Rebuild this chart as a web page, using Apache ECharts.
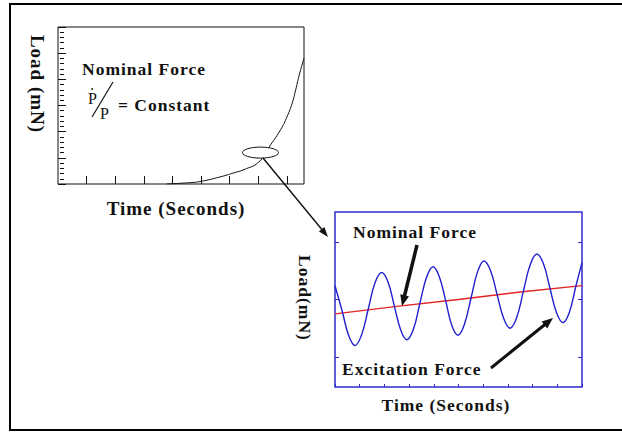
<!DOCTYPE html>
<html>
<head>
<meta charset="utf-8">
<script src="https://cdn.jsdelivr.net/npm/echarts@6/dist/echarts.min.js"></script>
<style>
  html, body { margin: 0; padding: 0; background: #fff; }
  #chart { width: 622px; height: 433px; }
  #chart svg text { letter-spacing: 1px; }
</style>
</head>
<body>
<div id="chart"></div>
<script>
// Upper-left panel: nominal force ramp, P'/P = constant (exponential growth)
const rampTime = [3.8, 4.6, 5.0, 5.7, 6.13, 6.5, 7.02, 7.37, 7.78, 8.01, 8.19, 8.31, 8.42, 8.6];
const rampLoad = [0.0, 0.05, 0.10, 0.28, 0.42, 0.55, 0.84, 1.40, 2.07, 2.58, 3.10, 3.60, 4.11, 4.81];
const rampTimeTicks = [1, 2, 3, 4, 5, 6, 7, 8];

// Lower-right panel: close-up of the ramp with the superimposed excitation
const zoomTime = [0, 0.29, 0.55, 0.81, 1.08, 1.35, 1.62, 1.89, 2.15, 2.40, 2.66, 2.91,
                  3.18, 3.44, 3.71, 3.97, 4.22, 4.48, 4.73, 4.98, 5.24, 5.51, 5.77, 6.03,
                  6.30, 6.56, 6.83, 7.09, 7.36, 7.63, 7.90, 8.17, 8.44, 8.70, 8.97, 9.23,
                  9.49, 9.75, 10.0];
const excitationLoad = [2.24, 1.80, 1.38, 1.20, 1.39, 1.84, 2.29, 2.47, 2.30, 1.89, 1.47, 1.30,
                        1.49, 1.94, 2.39, 2.57, 2.40, 1.98, 1.55, 1.38, 1.57, 2.03, 2.48, 2.67,
                        2.50, 2.09, 1.67, 1.50, 1.69, 2.15, 2.60, 2.79, 2.62, 2.20, 1.77, 1.60,
                        1.78, 2.23, 2.64];
const nominalTime = [0, 2.5, 5, 7.5, 10];
const nominalLoad = [1.75, 1.88, 2.0, 2.13, 2.24];
const zoomLoadTicks = [1, 2, 3];

const zip = (xs, ys) => xs.map((x, i) => [x, ys[i]]);

const SERIF = 'Liberation Serif';
const INK = '#111';
const BLUE_FRAME = '#2b2bcc';

const chart = echarts.init(document.getElementById('chart'), null, { renderer: 'svg' });

const noLine = { show: false };
const noLabel = { show: false };
const noSplit = { show: false };

// Ticks point into the plot: the axis is shifted inward by the tick length
// and its (outward) ticks reach back to the frame.
function rampXAxis(position) {
  return {
    gridIndex: 0, type: 'value', min: 0, max: 8.6, position, offset: -4,
    axisLine: noLine, splitLine: noSplit,
    axisLabel: { show: false, customValues: rampTimeTicks },
    axisTick: { show: true, inside: false, length: 4, customValues: rampTimeTicks,
                lineStyle: { color: INK, width: 1 } }
  };
}
function rampYAxis(position) {
  return {
    gridIndex: 0, type: 'value', min: 0, max: 6, interval: 1, position, offset: -4,
    axisLine: noLine, splitLine: noSplit, axisLabel: noLabel,
    axisTick: { show: true, inside: false, length: 4, lineStyle: { color: INK, width: 1 } },
    minorTick: { show: true, splitNumber: 5, length: 2, lineStyle: { color: INK, width: 1 } },
    minorSplitLine: { show: false }
  };
}
function zoomYAxis(position) {
  return {
    gridIndex: 1, type: 'value', min: 0.48, max: 3.52, position, offset: -4,
    axisLine: noLine, splitLine: noSplit,
    axisLabel: { show: false, customValues: zoomLoadTicks },
    axisTick: { show: true, inside: false, length: 4, customValues: zoomLoadTicks,
                lineStyle: { color: BLUE_FRAME, width: 1 } }
  };
}

chart.setOption({
  animation: false,
  backgroundColor: '#fff',
  grid: [
    { left: 58, top: 27, width: 246, height: 157, show: true,
      borderColor: INK, borderWidth: 1, backgroundColor: 'transparent' },
    { left: 335, top: 212, width: 247, height: 175, show: true,
      borderColor: BLUE_FRAME, borderWidth: 1.5, backgroundColor: 'transparent' }
  ],
  xAxis: [
    rampXAxis('bottom'),
    rampXAxis('top'),
    {
      gridIndex: 1, type: 'value', min: 0, max: 10, interval: 1, position: 'bottom', offset: -3,
      axisLine: noLine, splitLine: noSplit, axisLabel: noLabel,
      axisTick: { show: true, inside: false, length: 3, lineStyle: { color: BLUE_FRAME, width: 1 } }
    }
  ],
  yAxis: [
    rampYAxis('left'),
    rampYAxis('right'),
    zoomYAxis('left'),
    zoomYAxis('right')
  ],
  series: [
    {
      type: 'line', xAxisIndex: 0, yAxisIndex: 0, data: zip(rampTime, rampLoad),
      smooth: true, symbol: 'none', silent: true,
      lineStyle: { color: INK, width: 1 }
    },
    {
      type: 'line', xAxisIndex: 2, yAxisIndex: 2, data: zip(nominalTime, nominalLoad),
      symbol: 'none', silent: true,
      lineStyle: { color: '#e42323', width: 1.3 }
    },
    {
      type: 'line', xAxisIndex: 2, yAxisIndex: 2, data: zip(zoomTime, excitationLoad),
      smooth: 0.4, symbol: 'none', silent: true,
      lineStyle: { color: '#1f1fd0', width: 1.4 }
    }
  ]
});

// Annotation helpers
function arrow(x1, y1, x2, y2, w, headLen, headW, color) {
  const dx = x2 - x1, dy = y2 - y1, L = Math.hypot(dx, dy);
  const ux = dx / L, uy = dy / L, px = -uy, py = ux;
  const bx = x2 - ux * headLen, by = y2 - uy * headLen;
  return [
    { type: 'line', z: 100, shape: { x1, y1, x2: bx + ux, y2: by + uy },
      style: { stroke: color, lineWidth: w } },
    { type: 'polygon', z: 100,
      shape: { points: [[x2, y2], [bx + px * headW / 2, by + py * headW / 2], [bx - px * headW / 2, by - py * headW / 2]] },
      style: { fill: color } }
  ];
}
function label(text, x, y, size, opts) {
  opts = opts || {};
  return {
    type: 'text', z: 100, x, y, rotation: opts.rotation || 0,
    style: {
      text, x: 0, y: 0, fill: INK,
      fontFamily: SERIF, fontSize: size, fontWeight: opts.weight || 'bold',
      textAlign: opts.align || 'center', textVerticalAlign: 'middle'
    }
  };
}

// Highlight ellipse on the ramp, placed in data coordinates of the upper panel
const focus = chart.convertToPixel({ xAxisIndex: 0, yAxisIndex: 0 }, [7.08, 1.2]);

const graphics = [
  // outer frame
  { type: 'rect', z: 90, shape: { x: 10, y: 4, width: 700, height: 426 },
    style: { fill: 'none', stroke: '#000', lineWidth: 2 } },

  // upper panel texts
  label('Load (mN)', 37, 84, 19, { rotation: -Math.PI / 2 }),
  label('Time (Seconds)', 176, 208, 19),
  label('Nominal Force', 82, 69, 17.5, { align: 'left' }),
  label('P', 88, 98, 16, { align: 'left', weight: 'normal' }),
  { type: 'circle', z: 100, shape: { cx: 92, cy: 89, r: 0.9 }, style: { fill: INK } },
  { type: 'line', z: 100, shape: { x1: 92, y1: 117, x2: 113, y2: 82 },
    style: { stroke: INK, lineWidth: 1.2 } },
  label('P', 100, 113, 16, { align: 'left', weight: 'normal' }),
  label('= Constant', 118, 105, 17.5, { align: 'left' }),

  // ellipse around the zoomed region
  { type: 'ellipse', z: 100, shape: { cx: focus[0], cy: focus[1], rx: 18, ry: 5.5 },
    style: { fill: '#fff', stroke: INK, lineWidth: 1 } },
  ...arrow(263, 158, 328, 237, 1.4, 10, 7, INK),

  // lower panel texts
  label('Load(mN)', 305, 298, 17.5, { rotation: -Math.PI / 2 }),
  label('Time (Seconds)', 446, 405, 17.5),
  label('Nominal Force', 353, 232, 17.5, { align: 'left' }),
  label('Excitation Force', 342, 369, 17.5, { align: 'left' }),
  ...arrow(417, 245, 402, 306, 3.5, 11, 9, INK),
  ...arrow(491, 368, 553, 318, 3, 11, 9, INK)
];

chart.setOption({ graphic: graphics });
</script>
</body>
</html>
